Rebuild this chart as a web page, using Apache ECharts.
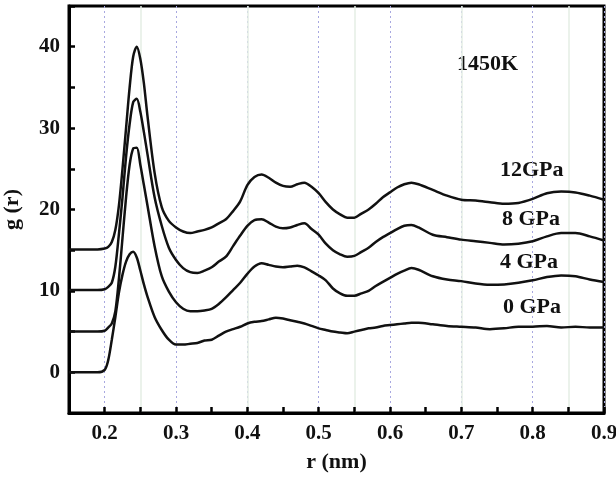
<!DOCTYPE html>
<html>
<head>
<meta charset="utf-8">
<script src="https://cdn.jsdelivr.net/npm/echarts@6/dist/echarts.min.js"></script>
<style>
  html, body { margin: 0; padding: 0; background: #fff; }
  #chart { width: 616px; height: 479px; }
</style>
</head>
<body>
<div id="chart"></div>
<script>
// r (nm) sample positions
var r = [0.15, 0.19,
  0.20, 0.205, 0.21, 0.215, 0.22, 0.225, 0.23, 0.235, 0.24, 0.245, 0.25, 0.255, 0.26,
  0.27, 0.28, 0.29, 0.30, 0.31, 0.32, 0.33, 0.34, 0.35, 0.36,
  0.37, 0.38, 0.39, 0.40, 0.41, 0.42, 0.43, 0.44, 0.45, 0.46,
  0.47, 0.48, 0.49, 0.50, 0.51, 0.52, 0.53, 0.54, 0.55, 0.56,
  0.57, 0.58, 0.59, 0.60, 0.61, 0.62, 0.63, 0.64,
  0.66, 0.68, 0.70, 0.72, 0.74, 0.76, 0.78, 0.80, 0.82, 0.84, 0.86, 0.88, 0.90];

// g(r) as plotted (curves shifted up by 5 each)
var g0 = [0, 0,
  0.3, 1.5, 4.0, 6.8, 9.8, 12.0, 13.6, 14.5, 14.8, 14.1, 12.5, 10.8, 9.3,
  6.8, 5.2, 4.0, 3.4, 3.4, 3.5, 3.6, 3.9, 4.0, 4.5,
  5.0, 5.3, 5.6, 6.0, 6.2, 6.3, 6.5, 6.7, 6.6, 6.4,
  6.2, 6.0, 5.7, 5.4, 5.2, 5.0, 4.9, 4.8, 5.0, 5.2,
  5.4, 5.5, 5.7, 5.8, 5.9, 6.0, 6.1, 6.1,
  5.9, 5.7, 5.6, 5.5, 5.3, 5.4, 5.6, 5.6, 5.7, 5.5, 5.6, 5.5, 5.5];

var g4 = [5.0, 5.0,
  5.1, 5.5, 6.0, 7.5, 11.5, 16.5, 21.5, 25.5, 27.5, 27.6, 25.5, 23.0, 20.5,
  15.5, 11.8, 9.9, 8.6, 7.8, 7.5, 7.5, 7.6, 7.8, 8.4,
  9.2, 10.1, 11.0, 12.1, 13.0, 13.4, 13.2, 13.0, 12.9, 13.0,
  13.1, 12.9, 12.4, 11.9, 11.3, 10.3, 9.7, 9.4, 9.4, 9.7,
  10.0, 10.6, 11.1, 11.6, 12.1, 12.5, 12.8, 12.6,
  11.8, 11.4, 11.2, 10.9, 10.75, 10.8, 11.0, 11.3, 11.7, 11.9, 11.8, 11.4, 11.1];

var g8 = [10.1, 10.1,
  10.2, 10.5, 11.0, 13.0, 17.0, 21.5, 26.5, 30.5, 33.2, 33.6, 32.0, 29.5, 26.8,
  21.5, 18.0, 15.3, 13.8, 12.8, 12.3, 12.2, 12.5, 12.9, 13.6,
  14.2, 15.5, 16.8, 18.0, 18.7, 18.8, 18.4, 17.9, 17.7, 17.8,
  18.1, 18.3, 17.6, 16.9, 15.8, 15.0, 14.5, 14.2, 14.3, 14.8,
  15.3, 16.0, 16.6, 17.1, 17.6, 18.0, 18.1, 17.8,
  16.9, 16.6, 16.3, 16.1, 15.9, 15.7, 15.8, 16.1, 16.7, 17.1, 17.1, 16.7, 16.2];

var g12 = [15.1, 15.1,
  15.2, 15.4, 16.0, 17.5, 20.5, 25.0, 30.0, 35.0, 38.8, 40.0, 38.5, 35.5, 31.5,
  24.5, 20.3, 18.6, 17.8, 17.3, 17.1, 17.3, 17.5, 17.8, 18.3,
  18.8, 19.8, 21.0, 23.0, 24.0, 24.3, 23.9, 23.3, 22.9, 22.8,
  23.1, 23.3, 22.8, 22.0, 20.9, 20.0, 19.4, 19.0, 19.0, 19.5,
  20.0, 20.7, 21.5, 22.1, 22.7, 23.1, 23.3, 23.1,
  22.4, 21.7, 21.2, 21.1, 20.9, 20.7, 20.8, 21.3, 22.0, 22.2, 22.1, 21.7, 21.2];

var seriesNames = ['0 GPa', '4 GPa', '8 GPa', '12GPa'];
var seriesValues = [g0, g4, g8, g12];

var font = '"Liberation Serif", "Times New Roman", serif';

function pairs(vals) {
    var out = [];
    for (var i = 0; i < r.length; i++) {
        out.push([r[i], vals[i]]);
    }
    return out;
}

var myChart = echarts.init(document.getElementById('chart'));

var series = seriesNames.map(function (name, i) {
    return {
        name: name,
        type: 'line',
        data: pairs(seriesValues[i]),
        smooth: 0.3,
        showSymbol: false,
        lineStyle: { color: '#111', width: 2.5 },
        z: 5
    };
});

var labelStyle = { font: 'bold 22px ' + font, fill: '#111' };

myChart.setOption({
    backgroundColor: '#fff',
    animation: false,
    grid: {
        left: 69, right: 12, top: 6, bottom: 66,
        containLabel: false,
        outerBoundsMode: 'none',
        show: true,
        borderColor: '#000',
        borderWidth: 3
    },
    xAxis: [{
            type: 'value',
            min: 0.15,
            max: 0.9,
            interval: 0.05,
            name: 'r (nm)',
            nameLocation: 'middle',
            nameGap: 38,
            nameTextStyle: { fontFamily: font, fontWeight: 'bold', fontSize: 22, color: '#111' },
            axisLine: { show: true, onZero: false, lineStyle: { color: '#000', width: 3 } },
            axisTick: { show: true, inside: true, length: 6, lineStyle: { color: '#000', width: 2.5 } },
            axisLabel: {
                margin: 10,
                fontFamily: font, fontWeight: 'bold', fontSize: 21, color: '#111',
                formatter: function (v) {
                    var k = Math.round(v * 100);
                    return (k % 10 === 0) ? (k / 100).toFixed(1) : '';
                }
            },
            splitLine: {
                show: true,
                lineStyle: { color: ['rgba(0,0,0,0)', '#a8a8e0'], type: [2, 3], width: 1 }
            }
        },
        {
            type: 'value',
            min: 0.15,
            max: 0.9,
            interval: 0.05,
            position: 'top',
            axisLine: { show: false },
            axisTick: { show: false },
            axisLabel: { show: false },
            splitLine: {
                show: true,
                lineStyle: { color: ['rgba(0,0,0,0)', 'rgba(0,0,0,0)', '#e4eee4'], width: 1.5 }
            }
        }
    ],
    yAxis: {
        type: 'value',
        min: -5,
        max: 45,
        interval: 5,
        name: 'g (r)',
        nameLocation: 'middle',
        nameGap: 46,
        nameTextStyle: { fontFamily: font, fontWeight: 'bold', fontSize: 22, color: '#111' },
        axisLine: { show: true, onZero: false, lineStyle: { color: '#000', width: 3 } },
        axisTick: { show: true, inside: true, length: 6, lineStyle: { color: '#000', width: 2.5 } },
        axisLabel: {
            margin: 9,
            fontFamily: font, fontWeight: 'bold', fontSize: 21, color: '#111',
            formatter: function (v) {
                return (v >= 0 && v <= 40 && v % 10 === 0) ? String(v) : '';
            }
        },
        splitLine: { show: false }
    },
    graphic: [
        { type: 'text', left: 457, top: 53, style: Object.assign({ text: '1450K' }, labelStyle) },
        { type: 'text', left: 500, top: 159, style: Object.assign({ text: '12GPa' }, labelStyle) },
        { type: 'text', left: 502, top: 208, style: Object.assign({ text: '8 GPa' }, labelStyle) },
        { type: 'text', left: 500, top: 251, style: Object.assign({ text: '4 GPa' }, labelStyle) },
        { type: 'text', left: 503, top: 296, style: Object.assign({ text: '0 GPa' }, labelStyle) }
    ],
    series: series
});
</script>
</body>
</html>
